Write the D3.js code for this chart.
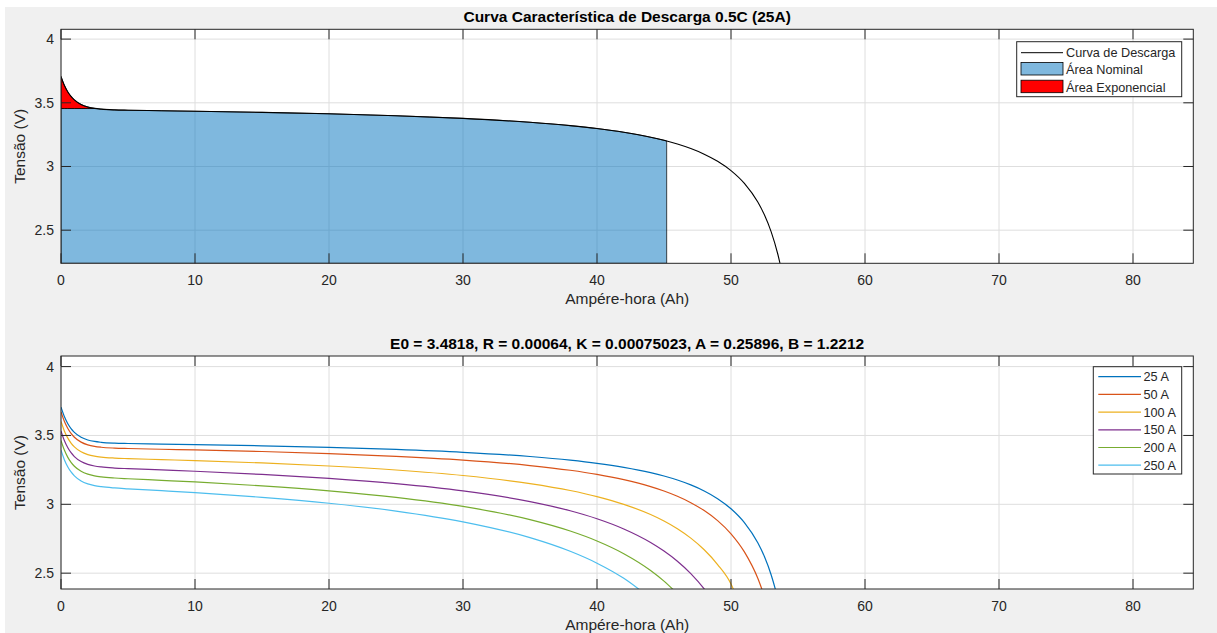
<!DOCTYPE html>
<html>
<head>
<meta charset="utf-8">
<script src="https://cdn.jsdelivr.net/npm/d3@7"></script>
<style>
  body { margin: 0; background: #fff; }
  text { font-family: "Liberation Sans", Arial, sans-serif; }
</style>
</head>
<body>
<div id="chart"></div>
<script>
// capacidade (Ah) usada por todas as curvas
const ahGrid = [0, 0.25, 0.5, 0.75, 1, 1.5, 2, 2.5, 3, 4, 5, 7.5, 10, 15, 20, 25, 30, 35, 38, 40, 42, 44, 45, 46, 47, 48, 49, 50, 51, 52, 52.5, 53, 53.5, 53.7];

// tensao (V), cada serie acaba no corte
const v25  = [3.706, 3.6376, 3.5871, 3.5499, 3.5223, 3.4868, 3.4673, 3.4564, 3.4503, 3.4443, 3.4417, 3.4377, 3.4339, 3.4249, 3.4135, 3.3984, 3.3776, 3.3471, 3.3208, 3.2979, 3.2686, 3.2299, 3.2054, 3.1763, 3.1408, 3.097, 3.0412, 2.9679, 2.8673, 2.7206, 2.6189, 2.487, 2.3091, 2.2193];
const v50  = [3.6713, 3.6028, 3.5522, 3.5148, 3.4872, 3.4516, 3.4319, 3.4208, 3.4144, 3.4082, 3.4051, 3.4, 3.3951, 3.3834, 3.3684, 3.3487, 3.3215, 3.2816, 3.2472, 3.2173, 3.179, 3.1284, 3.0965, 3.0583, 3.012, 2.9546, 2.8817, 2.7859, 2.6544, 2.4627, 2.3297];
const v100 = [3.6017, 3.5331, 3.4824, 3.4448, 3.417, 3.381, 3.361, 3.3496, 3.3428, 3.3358, 3.3319, 3.3248, 3.3175, 3.3002, 3.2783, 3.2493, 3.2093, 3.1506, 3.1001, 3.0561, 2.9999, 2.9255, 2.8785, 2.8224, 2.7543, 2.67, 2.5628, 2.422, 2.162];
const v150 = [3.5322, 3.4634, 3.4125, 3.3748, 3.3468, 3.3105, 3.2901, 3.2783, 3.2712, 3.2634, 3.2588, 3.2495, 3.2399, 3.2171, 3.1881, 3.1499, 3.0971, 3.0197, 2.953, 2.895, 2.8208, 2.7226, 2.6605, 2.5865, 2.4967, 2.3854, 2.2445];
const v200 = [3.4627, 3.3937, 3.3427, 3.3048, 3.2767, 3.24, 3.2192, 3.2071, 3.1996, 3.191, 3.1856, 3.1742, 3.1623, 3.134, 3.098, 3.0505, 2.9849, 2.8887, 2.8059, 2.7338, 2.6416, 2.5196, 2.4425, 2.3506];
const v250 = [3.3932, 3.324, 3.2728, 3.2348, 3.2065, 3.1694, 3.1483, 3.1358, 3.128, 3.1187, 3.1125, 3.099, 3.0847, 3.0509, 3.0079, 2.9511, 2.8728, 2.7578, 2.6588, 2.5726, 2.4625, 2.3167];

const seriesNames = ["25 A", "50 A", "100 A", "150 A", "200 A", "250 A"];
const seriesValues = [v25, v50, v100, v150, v200, v250];
const seriesColors = ["#0072bd", "#d95319", "#edb120", "#7e2f8e", "#77ac30", "#4dbeee"];

// pontos exponencial e nominal
const expQ = 2.6, expV = 3.455;
const nomQ = 45.2, nomV = 3.2;

const xTicks = [0, 10, 20, 30, 40, 50, 60, 70, 80];
const yTicks = [2.5, 3, 3.5, 4];
const legendTop = ["Curva de Descarga", "Área Nominal", "Área Exponencial"];

const W = 1217, H = 633;
const svg = d3.select("#chart").append("svg")
  .attr("width", W).attr("height", H);

svg.append("rect").attr("x", 5).attr("y", 7).attr("width", W - 5).attr("height", H - 7)
  .attr("fill", "#f0f0f0");

const axColor = "#262626";

function makeAxes(id, box, yDomain, title) {
  const x = d3.scaleLinear().domain([0, 84.5]).range([box.left, box.right]);
  const y = d3.scaleLinear().domain(yDomain).range([box.bottom, box.top]);
  const g = svg.append("g");

  g.append("rect")
    .attr("x", box.left).attr("y", box.top)
    .attr("width", box.right - box.left).attr("height", box.bottom - box.top)
    .attr("fill", "#fff");

  // grelha
  g.selectAll(".gx").data(xTicks).join("line")
    .attr("x1", d => x(d)).attr("x2", d => x(d))
    .attr("y1", box.top).attr("y2", box.bottom)
    .attr("stroke", "#dedede").attr("stroke-width", 1);
  g.selectAll(".gy").data(yTicks).join("line")
    .attr("x1", box.left).attr("x2", box.right)
    .attr("y1", d => y(d)).attr("y2", d => y(d))
    .attr("stroke", "#dedede").attr("stroke-width", 1);

  svg.append("clipPath").attr("id", id)
    .append("rect")
    .attr("x", box.left).attr("y", box.top)
    .attr("width", box.right - box.left).attr("height", box.bottom - box.top);

  const plot = svg.append("g").attr("clip-path", `url(#${id})`);
  const over = svg.append("g");

  // caixa e ticks por dentro
  const tl = 10;
  over.append("rect")
    .attr("x", box.left).attr("y", box.top)
    .attr("width", box.right - box.left).attr("height", box.bottom - box.top)
    .attr("fill", "none").attr("stroke", axColor).attr("stroke-width", 1);
  xTicks.forEach(t => {
    over.append("line").attr("x1", x(t)).attr("x2", x(t))
      .attr("y1", box.bottom).attr("y2", box.bottom - tl).attr("stroke", axColor);
    over.append("line").attr("x1", x(t)).attr("x2", x(t))
      .attr("y1", box.top).attr("y2", box.top + tl).attr("stroke", axColor);
    over.append("text").attr("x", x(t)).attr("y", box.bottom + 22)
      .attr("text-anchor", "middle").attr("font-size", "14px").attr("fill", axColor)
      .text(t);
  });
  yTicks.forEach(t => {
    over.append("line").attr("x1", box.left).attr("x2", box.left + tl)
      .attr("y1", y(t)).attr("y2", y(t)).attr("stroke", axColor);
    over.append("line").attr("x1", box.right).attr("x2", box.right - tl)
      .attr("y1", y(t)).attr("y2", y(t)).attr("stroke", axColor);
    over.append("text").attr("x", box.left - 7).attr("y", y(t) + 5)
      .attr("text-anchor", "end").attr("font-size", "14px").attr("fill", axColor)
      .text(t);
  });

  const cx = (box.left + box.right) / 2;
  over.append("text").attr("x", cx).attr("y", box.top - 7)
    .attr("text-anchor", "middle").attr("font-size", "15.5px").attr("font-weight", "bold")
    .attr("fill", "#000").text(title);
  over.append("text").attr("x", cx).attr("y", box.bottom + 41)
    .attr("text-anchor", "middle").attr("font-size", "15.5px").attr("fill", axColor)
    .text("Ampére-hora (Ah)");
  const cy = (box.top + box.bottom) / 2;
  over.append("text")
    .attr("transform", `translate(25, ${cy}) rotate(-90)`)
    .attr("text-anchor", "middle").attr("font-size", "15.5px").attr("fill", axColor)
    .text("Tensão (V)");

  return {x, y, plot, over, box};
}

// ---- grafico de cima ----
const axTop = makeAxes("clipTop", {left: 61, right: 1193.3, top: 29.3, bottom: 263.3}, [2.24, 4.077],
  "Curva Característica de Descarga 0.5C (25A)");

const curve25 = ahGrid.slice(0, v25.length).map((a, i) => ({a: a, v: v25[i]}));

const nominalPts = [{a: 0, v: expV}, {a: expQ, v: expV}]
  .concat(curve25.filter(d => d.a > expQ && d.a < nomQ))
  .concat([{a: nomQ, v: nomV}]);
const expPts = curve25.filter(d => d.a < expQ).concat([{a: expQ, v: expV}]);

const areaNom = d3.area()
  .x(d => axTop.x(d.a)).y0(axTop.y(2.24)).y1(d => axTop.y(d.v))
  .curve(d3.curveMonotoneX);
axTop.plot.append("path").datum(nominalPts)
  .attr("d", areaNom)
  .attr("fill", "#0072bd").attr("fill-opacity", 0.5)
  .attr("stroke", "#000").attr("stroke-opacity", 0.7).attr("stroke-width", 1);

const areaExp = d3.area()
  .x(d => axTop.x(d.a)).y0(axTop.y(expV)).y1(d => axTop.y(d.v))
  .curve(d3.curveMonotoneX);
axTop.plot.append("path").datum(expPts)
  .attr("d", areaExp)
  .attr("fill", "#ff0000")
  .attr("stroke", "#000").attr("stroke-width", 0.8);

const lineTop = d3.line().x(d => axTop.x(d.a)).y(d => axTop.y(d.v)).curve(d3.curveMonotoneX);
axTop.plot.append("path").datum(curve25)
  .attr("d", lineTop).attr("fill", "none").attr("stroke", "#000").attr("stroke-width", 1.1);

// legenda de cima
const lg1 = axTop.over.append("g");
lg1.append("rect").attr("x", 1016.7).attr("y", 41.7).attr("width", 165).attr("height", 55)
  .attr("fill", "#fff").attr("stroke", axColor).attr("stroke-width", 1);
lg1.append("line").attr("x1", 1021).attr("x2", 1063).attr("y1", 52.7).attr("y2", 52.7)
  .attr("stroke", "#000").attr("stroke-width", 1);
lg1.append("rect").attr("x", 1021).attr("y", 62.5).attr("width", 42).attr("height", 12.5)
  .attr("fill", "#7fb8de").attr("stroke", "#000").attr("stroke-width", 0.8);
lg1.append("rect").attr("x", 1021).attr("y", 80.2).attr("width", 42).attr("height", 12.5)
  .attr("fill", "#ff0000").attr("stroke", "#000").attr("stroke-width", 0.8);
legendTop.forEach((t, i) => {
  lg1.append("text").attr("x", 1066).attr("y", 57 + i * 17.4)
    .attr("font-size", "12.7px").attr("fill", axColor).text(t);
});

// ---- grafico de baixo ----
const axBot = makeAxes("clipBot", {left: 61, right: 1193.3, top: 356, bottom: 589}, [2.385, 4.077],
  "E0 = 3.4818, R = 0.00064, K = 0.00075023, A = 0.25896, B = 1.2212");

const lineBot = d3.line().x(d => axBot.x(d.a)).y(d => axBot.y(d.v)).curve(d3.curveMonotoneX);
seriesValues.forEach((vals, k) => {
  const pts = vals.map((v, i) => ({a: ahGrid[i], v: v}));
  axBot.plot.append("path").datum(pts)
    .attr("d", lineBot).attr("fill", "none")
    .attr("stroke", seriesColors[k]).attr("stroke-width", 1.2);
});

const lg2 = axBot.over.append("g");
lg2.append("rect").attr("x", 1093.3).attr("y", 366.7).attr("width", 88.4).attr("height", 107.3)
  .attr("fill", "#fff").attr("stroke", axColor).attr("stroke-width", 1);
seriesNames.forEach((s, i) => {
  const yy = 376.7 + i * 17.7;
  lg2.append("line").attr("x1", 1098.3).attr("x2", 1141).attr("y1", yy).attr("y2", yy)
    .attr("stroke", seriesColors[i]).attr("stroke-width", 1.2);
  lg2.append("text").attr("x", 1143.5).attr("y", yy + 4.5)
    .attr("font-size", "12.7px").attr("fill", axColor).text(s);
});
</script>
</body>
</html>
